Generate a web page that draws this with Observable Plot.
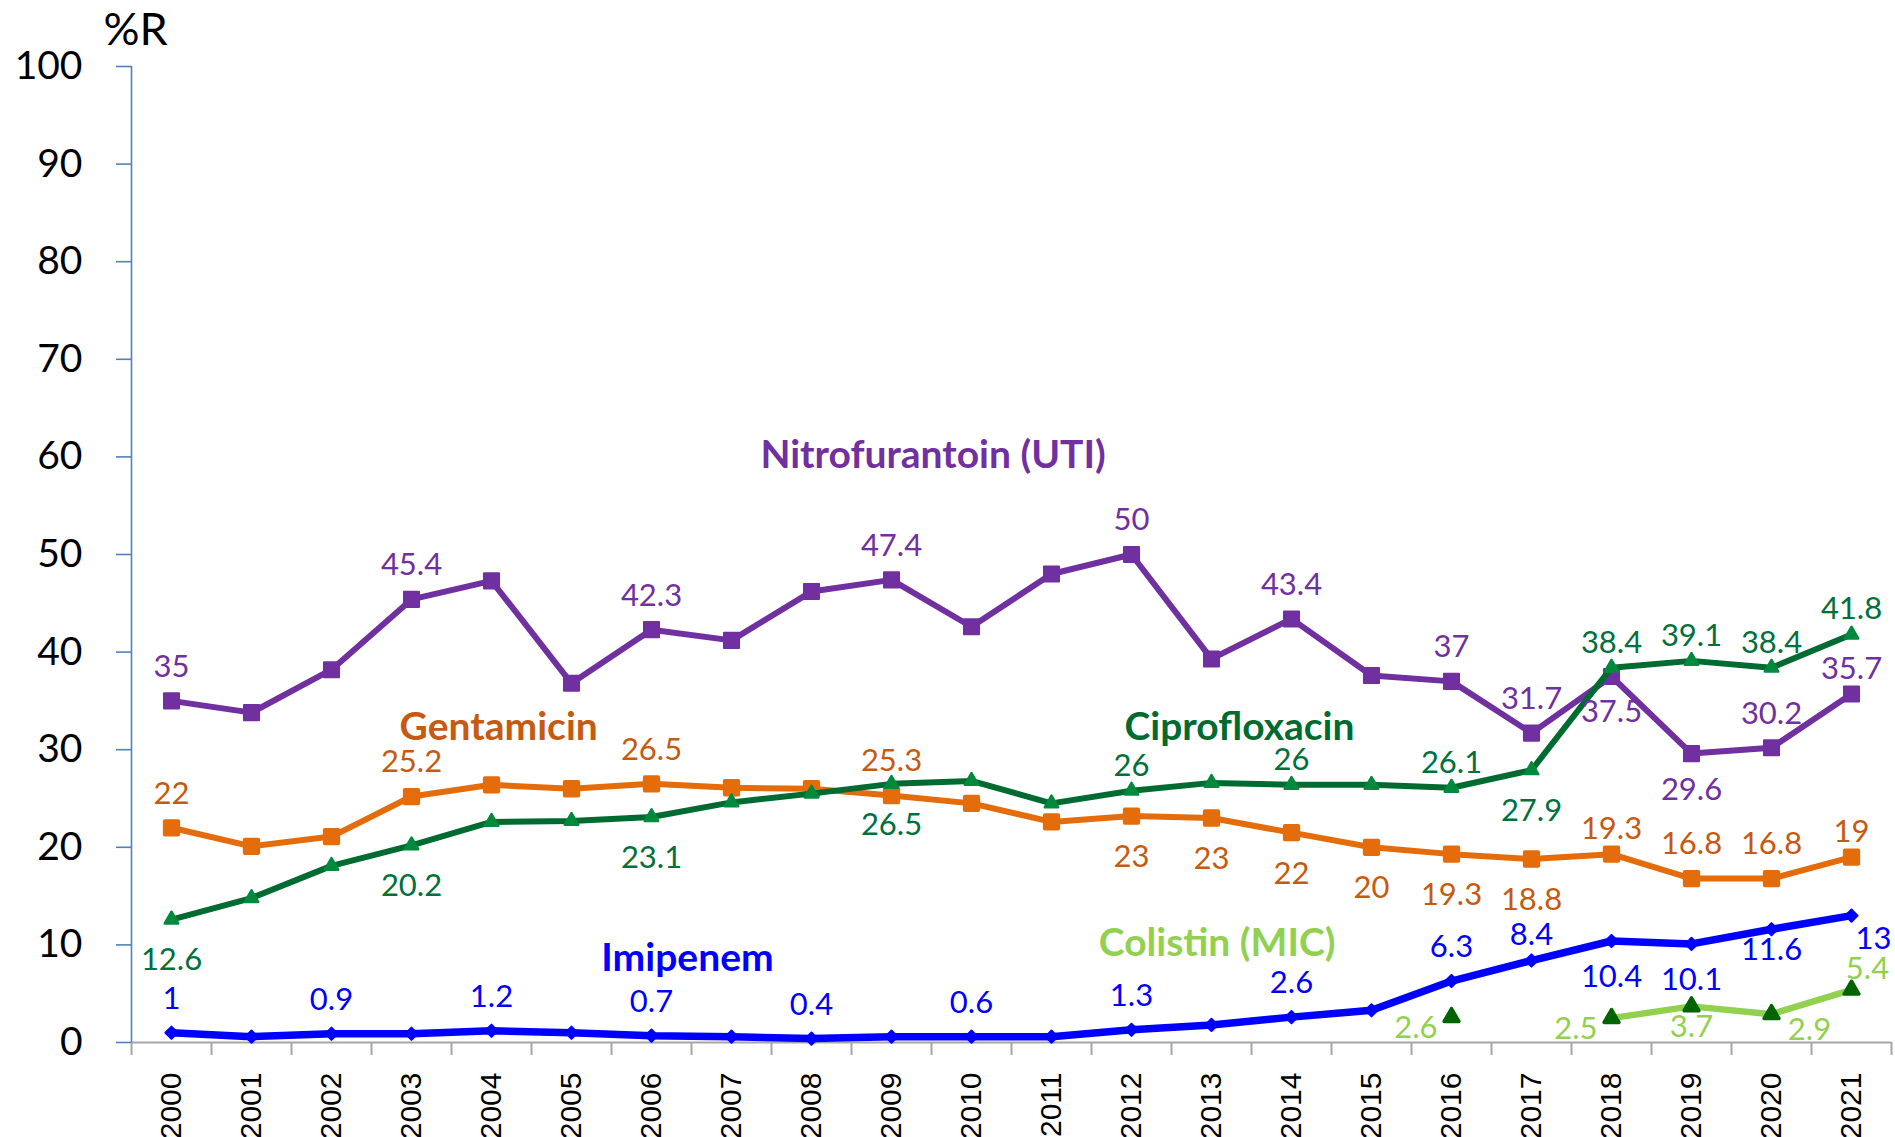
<!DOCTYPE html>
<html><head><meta charset="utf-8">
<script src="https://cdn.jsdelivr.net/npm/d3@7"></script>
<script src="https://cdn.jsdelivr.net/npm/@observablehq/plot@0.6"></script>
<style>html,body{margin:0;padding:0;background:#fff}</style>
</head><body><div id="chart"></div>
<script>
// ---- data ----
const years = [2000,2001,2002,2003,2004,2005,2006,2007,2008,2009,2010,2011,2012,2013,2014,2015,2016,2017,2018,2019,2020,2021];
const yTicks = [0,10,20,30,40,50,60,70,80,90,100];

const nitroValues = [35,33.8,38.2,45.4,47.3,36.8,42.3,41.2,46.2,47.4,42.6,48.0,50,39.3,43.4,37.6,37,31.7,37.5,29.6,30.2,35.7];
const nitroLabels = ["35",null,null,"45.4",null,null,"42.3",null,null,"47.4",null,null,"50",null,"43.4",null,"37","31.7","37.5","29.6","30.2","35.7"];

const gentaValues = [22,20.1,21.1,25.2,26.4,26.0,26.5,26.1,26.0,25.3,24.5,22.6,23.2,23.0,21.5,20,19.3,18.8,19.3,16.8,16.8,19];
const gentaLabels = ["22",null,null,"25.2",null,null,"26.5",null,null,"25.3",null,null,"23","23","22","20","19.3","18.8","19.3","16.8","16.8","19"];

const ciproValues = [12.6,14.8,18.1,20.2,22.6,22.7,23.1,24.6,25.5,26.5,26.8,24.5,25.8,26.6,26.4,26.4,26.1,27.9,38.4,39.1,38.4,41.8];
const ciproLabels = ["12.6",null,null,"20.2",null,null,"23.1",null,null,"26.5",null,null,"26",null,"26",null,"26.1","27.9","38.4","39.1","38.4","41.8"];

const imiValues = [1,0.6,0.9,0.9,1.2,1.0,0.7,0.6,0.4,0.6,0.6,0.6,1.3,1.8,2.6,3.3,6.3,8.4,10.4,10.1,11.6,13];
const imiLabels = ["1",null,"0.9",null,"1.2",null,"0.7",null,"0.4",null,"0.6",null,"1.3",null,"2.6",null,"6.3","8.4","10.4","10.1","11.6","13"];

const colValues = [null,null,null,null,null,null,null,null,null,null,null,null,null,null,null,null,2.6,null,2.5,3.7,2.9,5.4];
const colLabels = [null,null,null,null,null,null,null,null,null,null,null,null,null,null,null,null,"2.6",null,"2.5","3.7","2.9","5.4"];

const seriesNames = ["Nitrofurantoin (UTI)","Gentamicin","Ciprofloxacin","Imipenem","Colistin (MIC)"];
// annotation anchor (year, %R) of each series name
const nameYear = [2009.52, 2004.09, 2013.35, 2006.45, 2013.07];
const nameValue = [60.1, 32.3, 32.3, 8.6, 10.1];

// ---- styling ----
const font = "Lato, 'Open Sans', sans-serif";
const series = [
  {name: seriesNames[0], values: nitroValues, labels: nitroLabels, line: "#7030A0", marker: "#7030A0", text: "#7030A0", nameColor: "#7030A0",
   symbol: "square", r: 8.5, mStroke: 2, width: 6, place: {default: "above", 2018: "below", 2019: "below", 2021: "aboveNear"}},
  {name: seriesNames[1], values: gentaValues, labels: gentaLabels, line: "#E46C0A", marker: "#E46C0A", text: "#C55A11", nameColor: "#C55A11",
   symbol: "square", r: 7.5, mStroke: 4, width: 6, place: {default: "above", 2012: "belowFar", 2013: "belowFar", 2014: "belowFar", 2015: "belowFar", 2016: "belowFar", 2017: "belowFar", 2018: "aboveNear", 2021: "aboveNear"}},
  {name: seriesNames[2], values: ciproValues, labels: ciproLabels, line: "#006B30", marker: "#008A3E", text: "#00703C", nameColor: "#006B30",
   symbol: "triangle", r: 5, mStroke: 2.5, width: 6, place: {default: "aboveNear", 2000: "belowFar", 2003: "belowFar", 2006: "belowFar", 2009: "belowFar", 2017: "belowFar"}},
  {name: seriesNames[3], values: imiValues, labels: imiLabels, line: "#0000FF", marker: "#0000FF", text: "#0000FF", nameColor: "#0000FF",
   symbol: "diamond2", r: 5.5, mStroke: 2, width: 7.5, place: {default: "above", 2017: "aboveNear", 2018: "below", 2019: "below", 2020: "belowNear", 2021: "right"}},
  {name: seriesNames[4], values: colValues, labels: colLabels, line: "#92D050", marker: "#006400", text: "#92D050", nameColor: "#92D050",
   symbol: "triangle", r: 5.5, mStroke: 3.5, width: 6.5, place: {default: "above", 2016: "left", 2018: "left", 2019: "belowNear", 2020: "belowRight", 2021: "aboveRight"}}
];
const placeStyle = {
  above: {dy: -34},
  aboveNear: {dy: -25},
  below: {dy: 36},
  belowNear: {dy: 21},
  belowFar: {dy: 41},
  left: {dx: -14, dy: 11, textAnchor: "end"},
  right: {dx: 4, dy: 23, textAnchor: "start"},
  aboveRight: {dx: 16, dy: -21},
  belowRight: {dx: 38, dy: 16}
};

const boundaries = [years[0] - 0.5, ...years.map(y => y + 0.5)];

const marks = [
  Plot.ruleY([0], {stroke: "#a6a6a6", strokeWidth: 2}),
  Plot.axisX(boundaries, {tickSize: 13, stroke: "#a6a6a6", strokeWidth: 2, fill: "none", label: null}),
  Plot.axisX(years, {tickSize: 0, tickPadding: 30, tickRotate: -90, fontSize: 30, fontFamily: "'Liberation Sans', Arial, sans-serif", fill: "black", tickFormat: d => String(d), label: null}),
  Plot.ruleX([boundaries[0]], {y1: yTicks[0], y2: yTicks[yTicks.length - 1], stroke: "#4F81BD", strokeWidth: 1.6}),
  Plot.axisY(yTicks, {tickSize: 15, stroke: "#4F81BD", strokeWidth: 1.6, fill: "none", label: null}),
  Plot.axisY(yTicks, {tickSize: 0, tickPadding: 49, fontSize: 39, fontFamily: font, fill: "black", label: null}),
  Plot.text(["%R"], {frameAnchor: "top-left", dx: 4, dy: -53, fontSize: 45, fontFamily: font, fill: "black", textAnchor: "middle"})
];

for (const s of series) {
  const rows = years.map((y, i) => ({year: y, value: s.values[i], label: s.labels[i], place: s.place[y] || s.place.default}));
  const pts = rows.filter(d => d.value != null);
  marks.push(Plot.line(rows, {x: "year", y: "value", stroke: s.line, strokeWidth: s.width, strokeLinejoin: "round", strokeLinecap: "round"}));
  marks.push(Plot.dot(pts, {x: "year", y: "value", symbol: () => s.symbol, r: s.r, fill: s.marker, stroke: s.marker, strokeWidth: s.mStroke, strokeLinejoin: "round"}));
}
for (const s of series) {
  const rows = years.map((y, i) => ({year: y, value: s.values[i], label: s.labels[i], place: s.place[y] || s.place.default}))
    .filter(d => d.label != null && d.value != null);
  for (const [key, st] of Object.entries(placeStyle)) {
    const sub = rows.filter(d => d.place === key);
    if (!sub.length) continue;
    marks.push(Plot.text(sub, {x: "year", y: "value", text: "label", fill: s.text, fontSize: 31, fontFamily: font, textAnchor: "middle", ...st}));
  }
}
const nameRows = seriesNames.map((n, i) => ({name: n, year: nameYear[i], value: nameValue[i], color: series[i].nameColor}));
marks.push(Plot.text(nameRows, {x: "year", y: "value", text: "name", fill: d => d.color, fontSize: 39, fontWeight: "bold", fontFamily: font}));

const chart = Plot.plot({
  width: 1895,
  height: 1137,
  marginLeft: 131,
  marginRight: 4,
  marginTop: 66,
  marginBottom: 95,
  style: {fontFamily: font, background: "white", overflow: "visible"},
  x: {type: "linear", domain: [boundaries[0], boundaries[boundaries.length - 1]], label: null},
  y: {domain: [yTicks[0], yTicks[yTicks.length - 1]], label: null},
  color: {type: "identity"},
  marks
});
document.getElementById("chart").appendChild(chart);
</script>
</body></html>
